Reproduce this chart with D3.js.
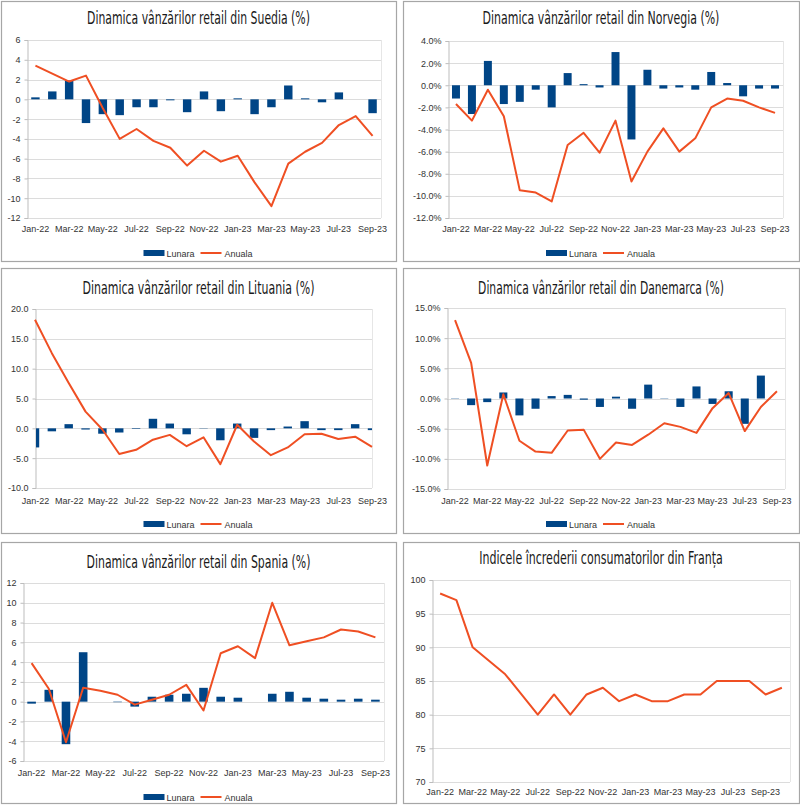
<!DOCTYPE html>
<html>
<head>
<meta charset="utf-8">
<script src="https://cdn.jsdelivr.net/npm/d3@7"></script>
<style>
  body { margin: 0; background: #fff; }
  svg { display: block; }
  .tick text { font-family: 'Liberation Sans', Arial, sans-serif; font-size: 9px; fill: #333; }
  .title { font-family: 'DejaVu Sans Condensed', 'DejaVu Sans', sans-serif; font-size: 17px; fill: #1a1a1a; }
  .legend text { font-family: 'Liberation Sans', Arial, sans-serif; font-size: 9px; fill: #333; }
</style>
</head>
<body>
<svg width="800" height="805"></svg>
<script>
// months on the x axis
const months = ['Jan-22', 'Feb-22', 'Mar-22', 'Apr-22', 'May-22', 'Jun-22', 'Jul-22', 'Aug-22', 'Sep-22', 'Oct-22', 'Nov-22', 'Dec-22',
  'Jan-23', 'Feb-23', 'Mar-23', 'Apr-23', 'May-23', 'Jun-23', 'Jul-23', 'Aug-23', 'Sep-23']
const monthsFr = months.concat(['Oct-23'])

// Suedia
const sweMonthly = [0.2, 0.8, 1.9, -2.4, -1.5, -1.6, -0.8, -0.8, -0.1, -1.3, 0.8, -1.2, 0.1, -1.5, -0.8, 1.4, 0.1, -0.3, 0.7, 0, -1.4]
const sweAnnual = [3.4, 2.6, 1.8, 2.4, -0.9, -4.0, -3.0, -4.2, -4.9, -6.7, -5.2, -6.3, -5.7, -8.4, -10.8, -6.5, -5.3, -4.4, -2.6, -1.7, -3.7]
const sweTicks = [-12, -10, -8, -6, -4, -2, 0, 2, 4, 6]

// Norvegia
const norMonthly = [-1.2, -2.6, 2.2, -1.7, -1.5, -0.4, -2.0, 1.1, 0.1, -0.2, 3.0, -4.9, 1.4, -0.3, -0.2, -0.4, 1.2, 0.2, -1.0, -0.3, -0.3]
const norAnnual = [-1.7, -3.2, -0.4, -2.8, -9.5, -9.7, -10.5, -5.4, -4.3, -6.1, -3.2, -8.7, -6.0, -3.9, -6.0, -4.8, -2.0, -1.2, -1.4, -2.0, -2.5]
const norTicks = [-12, -10, -8, -6, -4, -2, 0, 2, 4]

// Lituania
const ltuMonthly = [-3.2, -0.5, 0.7, -0.2, -0.9, -0.7, -0.1, 1.6, 0.8, -1.0, 0.05, -2.0, 0.8, -1.6, -0.3, 0.3, 1.2, -0.3, -0.3, 0.7, -0.3]
const ltuAnnual = [18.2, 12.6, 7.6, 2.8, -0.2, -4.3, -3.6, -1.9, -1.1, -3.0, -1.5, -6.0, 0.6, -2.2, -4.5, -3.2, -1.0, -0.9, -1.8, -1.4, -3.1]
const ltuTicks = [-10, -5, 0, 5, 10, 15, 20]

// Danemarca
const dnkMonthly = [0.05, -1.1, -0.6, 1.0, -2.8, -1.7, 0.4, 0.6, -0.2, -1.4, 0.3, -1.7, 2.3, 0.05, -1.4, 2.0, -0.9, 1.2, -4.2, 3.8, 0]
const dnkAnnual = [13.0, 5.9, -11.1, 0.7, -7.0, -8.8, -9.0, -5.3, -5.2, -10.0, -7.3, -7.7, -6.0, -4.1, -4.7, -5.7, -1.6, 0.9, -5.4, -1.4, 1.2]
const dnkTicks = [-15, -10, -5, 0, 5, 10, 15]

// Spania
const espMonthly = [-0.2, 1.2, -4.3, 5.0, 0, -0.05, -0.5, 0.5, 0.7, 0.8, 1.4, 0.5, 0.4, 0, 0.8, 1.0, 0.4, 0.3, 0.2, 0.3, 0.2]
const espAnnual = [3.9, 1.3, -4.1, 1.4, 1.1, 0.7, -0.3, 0.2, 0.7, 1.7, -0.9, 4.9, 5.6, 4.4, 10.0, 5.7, 6.1, 6.5, 7.3, 7.1, 6.5]
const espTicks = [-6, -4, -2, 0, 2, 4, 6, 8, 10, 12]

// Franta - increderea consumatorilor
const fraIndex = [98, 97, 90, 88, 86, 83, 80, 83, 80, 83, 84, 82, 83, 82, 82, 83, 83, 85, 85, 85, 83, 84]
const fraTicks = [70, 75, 80, 85, 90, 95, 100]

const barColor = '#004586'
const lineColor = '#ef4f23'

const svg = d3.select('svg')

const hy = (s) => s.replace('\u2212', '-')
const fmtInt = (d) => hy(String(d))
const fmtOne = (d) => hy(d.toFixed(1))
const fmtPct = (d) => hy(d.toFixed(1)) + '%'

const panels = [
  { box: [1, 1, 396, 261], plot: [27, 40, 381, 218], title: 'Dinamica vânzărilor retail din Suedia (%)', titleY: 24, titleW: 223,
    cats: months, monthly: sweMonthly, annual: sweAnnual, ticks: sweTicks, fmt: fmtInt, xPad: 8, legendY: 253 },
  { box: [403, 1, 799, 261], plot: [448, 41, 783, 218], title: 'Dinamica vânzărilor retail din Norvegia (%)', titleY: 24, titleW: 237,
    cats: months, monthly: norMonthly, annual: norAnnual, ticks: norTicks, fmt: fmtPct, xPad: 8, legendY: 253 },
  { box: [1, 268, 396, 533], plot: [35, 309, 372, 488], title: 'Dinamica vânzărilor retail din Lituania (%)', titleY: 294, titleW: 232,
    cats: months, monthly: ltuMonthly, annual: ltuAnnual, ticks: ltuTicks, fmt: fmtOne, xPad: 10, legendY: 524, edge: true },
  { box: [403, 268, 799, 533], plot: [447, 308, 785, 489], title: 'Dinamica vânzărilor retail din Danemarca (%)', titleY: 294, titleW: 246,
    cats: months, monthly: dnkMonthly, annual: dnkAnnual, ticks: dnkTicks, fmt: fmtPct, xPad: 9, legendY: 524 },
  { box: [1, 542, 396, 803], plot: [23, 583, 384, 761], title: 'Dinamica vânzărilor retail din Spania (%)', titleY: 568, titleW: 224,
    cats: months, monthly: espMonthly, annual: espAnnual, ticks: espTicks, fmt: fmtInt, xPad: 9, legendY: 797 },
  { box: [403, 542, 799, 803], plot: [432, 580, 790, 782], title: 'Indicele încrederii consumatorilor din Franța', titleY: 564, titleW: 244,
    cats: monthsFr, monthly: null, annual: fraIndex, ticks: fraTicks, fmt: fmtInt, xPad: 7, legendY: null }
]

function drawPanel (p, idx) {
  const [bx0, by0, bx1, by1] = p.box
  const [left, top, right, bottom] = p.plot
  const g = svg.append('g')

  // panel frame
  g.append('rect')
    .attr('x', bx0 + 0.5).attr('y', by0 + 0.5)
    .attr('width', bx1 - bx0).attr('height', by1 - by0)
    .attr('fill', '#fff').attr('stroke', '#a6a6a6').attr('stroke-width', 1.2)

  // title: the original font is condensed, so squeeze it horizontally to the width seen
  const tg = g.append('g')
  const title = tg.append('text')
    .attr('class', 'title')
    .attr('x', 0).attr('y', 0)
    .attr('text-anchor', 'middle')
    .text(p.title)
  const w = title.node().getComputedTextLength()
  const sx = w > 0 ? p.titleW / w : 1
  tg.attr('transform', 'translate(' + ((bx0 + bx1) / 2) + ',' + p.titleY + ') scale(' + sx.toFixed(3) + ',1)')

  // scales
  let x, cx, step
  if (p.edge) {
    x = d3.scalePoint().domain(p.cats).range([left, right])
    step = x.step()
    cx = (d) => x(d)
  } else {
    x = d3.scaleBand().domain(p.cats).range([left, right]).padding(0)
    step = x.step()
    cx = (d) => x(d) + x.bandwidth() / 2
  }
  const y = d3.scaleLinear().domain(d3.extent(p.ticks)).range([bottom, top])

  // gridlines
  g.append('g').selectAll('line')
    .data(p.ticks)
    .enter()
    .append('line')
    .attr('x1', left).attr('x2', right)
    .attr('y1', (d) => Math.round(y(d)) + 0.5).attr('y2', (d) => Math.round(y(d)) + 0.5)
    .attr('stroke', '#dcdcdc')
  g.append('line')
    .attr('x1', right + 0.5).attr('x2', right + 0.5)
    .attr('y1', top).attr('y2', bottom)
    .attr('stroke', '#e6e6e6')

  // y axis
  const yAxis = d3.axisLeft(y).tickValues(p.ticks).tickFormat(p.fmt).tickSize(3).tickPadding(4)
  const ya = g.append('g')
    .attr('transform', 'translate(' + (left + 0.5) + ',0)')
    .call(yAxis)
  ya.select('.domain').attr('stroke', '#bdbdbd')
  ya.selectAll('.tick line').attr('stroke', '#bdbdbd')

  // x axis labels, every second month
  const xAxis = d3.axisBottom(x).tickValues(p.cats.filter((d, i) => i % 2 === 0)).tickSize(0).tickPadding(p.xPad)
  const xa = g.append('g')
    .attr('transform', 'translate(0,' + bottom + ')')
    .call(xAxis)
  xa.select('.domain').remove()

  // bars
  if (p.monthly) {
    const clipId = 'clip' + idx
    g.append('clipPath').attr('id', clipId)
      .append('rect').attr('x', left + 1).attr('y', top).attr('width', right - left - 1).attr('height', bottom - top)
    g.append('g')
      .attr('clip-path', 'url(#' + clipId + ')')
      .selectAll('rect')
      .data(p.monthly)
      .enter()
      .append('rect')
      .attr('x', (d, i) => cx(p.cats[i]) - step / 4)
      .attr('width', step / 2)
      .attr('y', (d) => y(Math.max(0, d)))
      .attr('height', (d) => Math.abs(y(d) - y(0)))
      .attr('fill', barColor)
  }

  // annual line
  const line = d3.line()
    .x((d, i) => cx(p.cats[i]))
    .y((d) => y(d))
  g.append('path')
    .datum(p.annual)
    .attr('d', line)
    .attr('fill', 'none')
    .attr('stroke', lineColor)
    .attr('stroke-width', 2)
    .attr('stroke-linejoin', 'round')

  // legend
  if (p.legendY !== null) {
    const c = (bx0 + bx1) / 2
    const lg = g.append('g').attr('class', 'legend')
    lg.append('rect')
      .attr('x', c - 55).attr('y', p.legendY - 3)
      .attr('width', 21).attr('height', 6)
      .attr('fill', barColor)
    lg.append('text').attr('x', c - 32).attr('y', p.legendY + 3.5).text('Lunara')
    lg.append('line')
      .attr('x1', c + 2).attr('x2', c + 23)
      .attr('y1', p.legendY).attr('y2', p.legendY)
      .attr('stroke', lineColor).attr('stroke-width', 2)
    lg.append('text').attr('x', c + 26).attr('y', p.legendY + 3.5).text('Anuala')
  }
}

panels.forEach(drawPanel)
</script>
</body>
</html>
